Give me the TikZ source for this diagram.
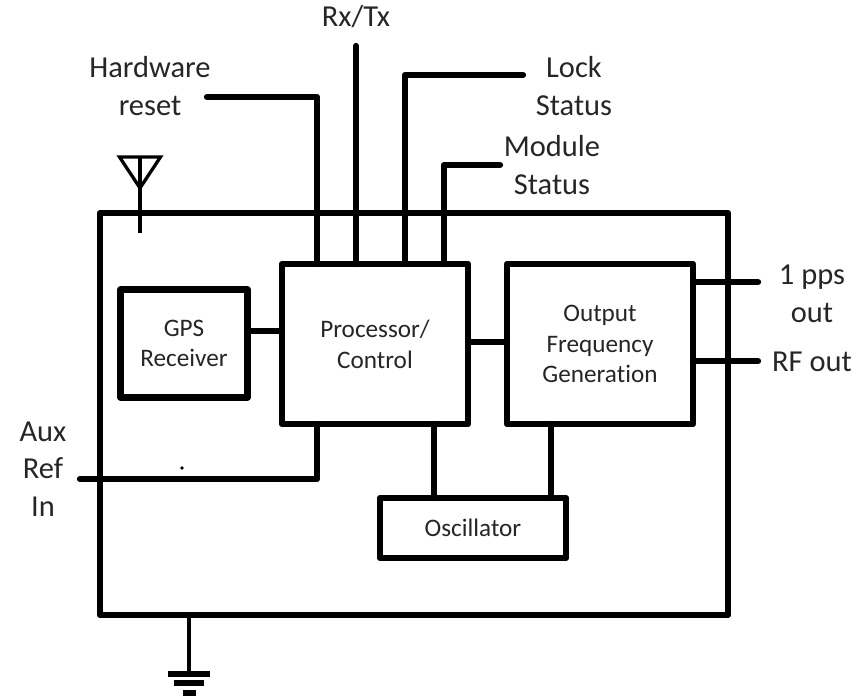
\documentclass[tikz,border=0pt]{standalone}
\usepackage{fontspec}
\setmainfont[Ligatures=NoCommon]{Carlito}
\usepackage{xcolor}
\usetikzlibrary{calc}

\begin{document}
\begin{tikzpicture}[
  x=0.03cm, y=-0.03cm,
  blk/.style={draw=black, line width=5.4pt, line join=round, fill=white, outer sep=0pt, align=center, inner sep=0pt, font=\fontsize{21.5}{26.3}\selectfont, text=black!85},
  lbl/.style={align=center, inner sep=0pt, font=\fontsize{26}{32}\selectfont, text=black!85},
  wire/.style={line width=5.4pt, line cap=round, line join=round},
  thinwire/.style={line width=2.8pt}
]
  \useasboundingbox (0,0) rectangle (859,696);
  % Enclosure first so the wires sit on top of it
  \node[blk, fill=none, minimum width=628*0.03cm, minimum height=402*0.03cm] (Case) at (414,414) {};

  % Free ends of the wires
  \coordinate (HwEnd) at (207,97);
  \coordinate (RxEnd) at (356,46);
  \coordinate (LockEnd) at (523,75);
  \coordinate (ModEnd) at (500,165);
  \coordinate (PpsEnd) at (758,282);
  \coordinate (RfEnd) at (758,361);
  \coordinate (AuxEnd) at (80,479);

  % Blocks
  \node[blk, minimum width=127*0.03cm, minimum height=108*0.03cm] (GPS) at (184,343.5) {GPS\\Receiver};
  \node[blk, minimum width=186*0.03cm, minimum height=160*0.03cm] (Proc) at (375,344) {Processor/\\Control};
  \node[blk, minimum width=186*0.03cm, minimum height=160*0.03cm] (Freq) at (600,344) {Output\\Frequency\\Generation};
  \node[blk, minimum width=186*0.03cm, minimum height=60*0.03cm] (Osc) at (473,528) {Oscillator};

  % Wires between blocks
  \draw[wire] (GPS.east |- 0,331) -- (Proc.west |- 0,331);
  \draw[wire] (Proc.east |- 0,342) -- (Freq.west |- 0,342);
  \foreach \x in {434,551}{
    \draw[wire] (\x,424) -- (\x,498);
  }
  % Wires leaving the case
  \draw[wire] (HwEnd) -| (Proc.north -| 317,0);
  \draw[wire] (RxEnd) -- (Proc.north -| RxEnd);
  \draw[wire] (LockEnd) -| (Proc.north -| 405,0);
  \draw[wire] (ModEnd) -| (Proc.north -| 444,0);
  \draw[wire] (Freq.east |- PpsEnd) -- (PpsEnd);
  \draw[wire] (Freq.east |- RfEnd) -- (RfEnd);
  \draw[wire] (AuxEnd) -| (Proc.south -| 317,0);

  % Antenna
  \coordinate (AntTip) at (140,188);
  \coordinate (AntFoot) at (140,233);
  \draw[thinwire, line join=miter] (119.5,157) -- (160.5,157) -- (AntTip) -- cycle;
  \draw[thinwire] (140,157) -- (AntFoot);

  % Ground
  \coordinate (GndTop) at (189,672);
  \draw[thinwire] (Case.south -| GndTop) -- (GndTop);
  \foreach \y/\w in {674/21, 683/15, 693/6.5}{
    \draw[line width=4.3pt] (189-\w,\y) -- (189+\w,\y);
  }
  \fill (182,468) circle (1.6pt);

  % Labels
  \node[lbl] (HwLbl) at (150,86) {Hardware\\reset};
  \node[lbl] (RxLbl) at (356,17) {Rx/Tx};
  \node[lbl] (LockLbl) at (574,86) {Lock\\Status};
  \node[lbl] (ModLbl) at (552,165) {Module\\Status};
  \node[lbl] (PpsLbl) at (812,294) {1 pps\\out};
  \node[lbl] (RfLbl) at (812,362) {RF out};
  \node[lbl] (AuxLbl) at (43,469) {Aux\\Ref\\In};
\end{tikzpicture}
\end{document}
